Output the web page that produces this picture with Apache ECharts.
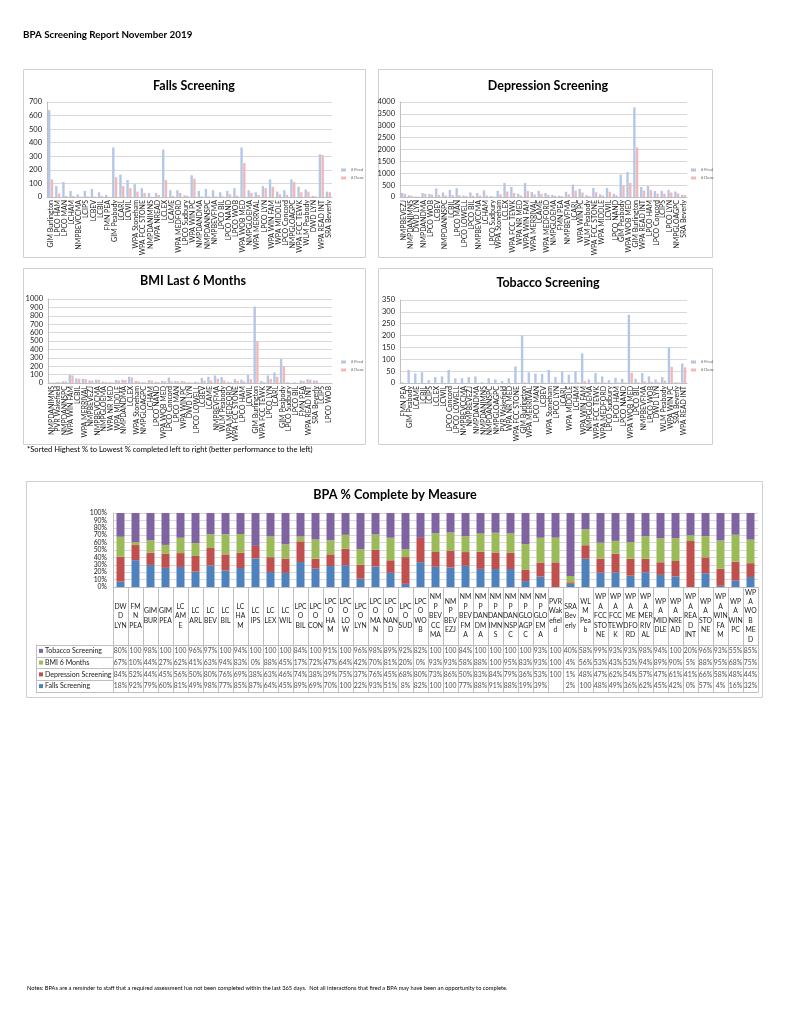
<!DOCTYPE html>
<html><head><meta charset="utf-8">
<script src="https://cdn.jsdelivr.net/npm/echarts@6/dist/echarts.min.js"></script>
<style>html,body{margin:0;padding:0;background:#fff}#c{width:791px;height:1024px}</style>
</head><body><div id="c"></div>
<script>
// ---------- Falls Screening ----------
const fallsSites = ['GIM Burlington','LPCO HAM','LPCO MAN','LCHAM','NMPBEVCCMA','LCIPS','LCBEV','LCBIL','FMN PEA','GIM Peabody','LCARL','LCWIL','WPA Stoneham','WPA FCC STONE','NMPDANIMNS','WPA NREAD','LCLEX','LCAME','WPA MEDFORD','LPCO Sudbury','WPA WIN PC','NMPDANDMA','NMPDANNSPC','NMPBEVFMA','LPCO BIL','LPCO NAND','LPCO WOB','WPA WOB MED','NMPGLOEMA','WPA MERRVAL','LPCO LYN','WPA WIN FAM','WPA MIDDLE','LPCO Concord','NMPGLOAGPC','WPA FCC TEWK','WLM Peabody','DWD LYN','WPA READ INT','SRA Beverly'];
const fallsFired = [640,80,110,45,20,45,60,35,15,365,165,125,95,65,30,30,350,50,50,12,160,45,60,50,35,45,65,365,50,35,80,130,40,50,130,75,55,8,315,40];
const fallsDone  = [130,25,8,8,3,5,3,8,2,145,80,65,40,30,3,15,125,8,30,10,135,5,5,5,5,20,10,250,30,15,65,75,20,15,110,35,40,5,310,35];

// ---------- Depression Screening ----------
const deprSites = ['NMPBEVEZJ','NMPDANIMNS','DWD LYN','NMPDANDMA','LPCO WOB','LCBEV','NMPDANNSPC','LCBIL','LPCO MAN','LPCO LOWELL','LPCO BIL','NMPBEVCCMA','LCHAM','LPCO Sudbury','WPA Stoneham','LCLEX','WPA FCC TEWK','WPA NR MED','WPA WIN FAM','WPA MERRIVAL','LCAME','WPA MEDFORD','NMPGLOEMA','FMN PEA','NMPBEVFMA','LCARL','WPA WIN PC','WLM Peabody','WPA FCC STONE','WPA MIDDLE','LCWIL','LPCO NAND','GIM Peabody','WPA WOB MED','GIM Burlington','WPA READ INT','LPCO HAM','LPCO Concord','LCIPS','LPCO LYN','NMPGLOAGPC','SRA Beverly'];
const deprFired = [170,70,20,170,130,360,190,300,370,60,190,170,280,40,260,590,420,140,590,210,260,170,90,60,220,520,340,80,380,110,380,130,940,1050,3770,420,460,250,260,300,230,90];
const deprDone  = [140,55,15,140,100,90,60,80,80,40,50,60,60,20,110,230,170,60,260,110,130,90,50,30,110,270,190,40,200,60,220,70,490,590,2090,270,290,140,140,190,150,80];

// ---------- BMI Last 6 Months ----------
const bmiSites = ['NMPDANIMNS','PVR Wakefield','NMPDANNSPC','WPA WIN FAM','LCBIL','WPA MERRIVAL','NMPBEVEZJ','NMPBEVCCMA','NMPGLOEMA','WPA NR MED','WPA MIDDLE','NMPDANDMA','LCLEX','WPA Stoneham','NMPGLOAGPC','LCHAM','LPCO NAND','WPA WOB MED','LPCO Concord','LPCO MAN','WPA WIN PC','DWD LYN','LPCO LOWELL','LCBEV','LCAME','NMPBEVFMA','WLM Peabody','WPA MEDFORD','WPA FCC STONE','LPCO HAM','LCWIL','GIM Burlington','WPA FCC TEWK','LPCO LYN','LCARL','GIM Peabody','LPCO Sudbury','LPCO BIL','FMN PEA','WPA READ INT','SRA Beverly','LCIPS','LPCO WOB'];
const bmiFired = [5,10,20,95,55,50,30,40,15,10,35,40,75,25,10,35,15,25,65,25,25,10,15,60,75,90,70,15,45,40,95,910,25,90,125,285,10,10,30,45,30,3,2];
const bmiDone  = [5,10,18,90,50,47,28,37,14,9,31,35,66,22,8,29,12,19,20,18,17,7,10,30,30,50,30,8,24,19,45,500,11,50,75,200,2,2,25,40,28,0,0];

// ---------- Tobacco Screening ----------
const tobSites = ['FMN PEA','GIM Peabody','LCAME','LCBIL','LCIPS','LCLEX','LCWIL','LPCO Concord','LPCO LOWELL','NMPBEVCCMA','NMPBEVEZJ','NMPDANDMA','NMPDANIMNS','NMPDANNSPC','NMPGLOAGPC','PVR Wakefield','WPA NR MED','WPA FCC STONE','GIM Burlington','WPA MERRIVAL','LPCO MAN','LCBEV','WPA Stoneham','LPCO LYN','LCARL','WPA MIDDLE','LCHAM','WPA WIN FAM','NMPGLOEMA','WPA FCC TEWK','WPA MEDFORD','LPCO Sudbury','LPCO HAM','LPCO NAND','WPA WOB MED','LPCO BIL','NMPBEVFMA','LPCO WOB','DWD LYN','WLM Peabody','WPA WIN PC','SRA Beverly','WPA READ INT'];
const tobFired = [3,55,40,45,12,25,28,55,20,20,25,28,3,20,15,8,20,70,200,45,40,38,55,25,48,35,48,125,15,42,28,12,22,18,288,18,42,28,15,25,150,3,82];
const tobDone  = [0,0,0,0,0,0,0,0,0,0,0,0,0,0,0,0,0,1,3,1,1,1,2,1,2,2,3,8,1,3,2,1,2,2,43,3,7,5,3,10,68,2,66];

// ---------- BPA % Complete by Measure ----------
const siteLabels = ['DW\nD\nLYN','FM\nN\nPEA','GIM\nBUR','GIM\nPEA','LC\nAM\nE','LC\nARL','LC\nBEV','LC\nBIL','LC\nHA\nM','LC\nIPS','LC\nLEX','LC\nWIL','LPC\nO\nBIL','LPC\nO\nCON','LPC\nO\nHA\nM','LPC\nO\nLO\nW','LPC\nO\nLYN','LPC\nO\nMA\nN','LPC\nO\nNAN\nD','LPC\nO\nSUD','LPC\nO\nWO\nB','NM\nP\nBEV\nCC\nMA','NM\nP\nBEV\nEZJ','NM\nP\nBEV\nFM\nA','NM\nP\nDAN\nDM\nA','NM\nP\nDAN\nIMN\nS','NM\nP\nDAN\nNSP\nC','NM\nP\nGLO\nAGP\nC','NM\nP\nGLO\nEM\nA','PVR\nWak\nefiel\nd','SRA\nBev\nerly','WL\nM\nPea\nb','WP\nA\nFCC\nSTO\nNE','WP\nA\nFCC\nTEW\nK','WP\nA\nME\nDFO\nRD','WP\nA\nMER\nRIV\nAL','WP\nA\nMID\nDLE','WP\nA\nNRE\nAD','WP\nA\nREA\nD\nINT','WP\nA\nSTO\nNE','WP\nA\nWIN\nFA\nM','WP\nA\nWIN\nPC','WP\nA\nWO\nB\nME\nD'];
const measureNames = ['Tobacco Screening','BMI 6 Months','Depression Screening','Falls Screening'];
const tobaccoPct    = [80,100,98,100,100,96,97,100,94,100,100,100,84,100,91,100,96,98,89,92,82,100,100,84,100,100,100,100,93,100,40,58,99,93,93,98,94,100,20,96,93,55,85];
const bmiPct        = [67,10,44,27,62,41,63,94,83,0,88,45,17,72,47,64,42,70,81,20,0,93,93,58,88,100,95,83,93,100,4,56,53,43,53,94,89,90,5,88,95,68,75];
const depressionPct = [84,52,44,45,56,50,80,76,69,38,63,46,74,38,39,75,37,76,45,68,80,73,86,50,83,84,79,36,53,100,1,48,47,62,54,57,47,61,41,66,58,48,44];
const fallsPct      = [18,92,79,60,81,49,98,77,85,87,64,45,89,69,70,100,22,93,51,8,82,100,100,77,88,91,88,19,39,null,2,100,48,49,36,62,45,42,0,57,4,16,32];
const pctTicks = [0,10,20,30,40,50,60,70,80,90,100];

const FONT = 'Lato, "Liberation Sans", sans-serif';
const FIRED = '#B4C7E7', DONE = '#F2B8B8';
const C_FALLS = '#4F81BD', C_DEP = '#C0504D', C_BMI = '#9BBB59', C_TOB = '#8064A2';
const GRIDC = '#D9D9D9', LINEC = '#BFBFBF', TXT = '#1a1a1a';

// 100% stacked shares
const rowsRaw = [fallsPct, depressionPct, bmiPct, tobaccoPct];
const totals = siteLabels.map((_, i) => rowsRaw.reduce((s, a) => s + (a[i] || 0), 0));
const share = a => a.map((v, i) => v == null ? 0 : v / totals[i] * 100);

function smallX(gi, data) {
  return {type:'category', gridIndex:gi, data,
    axisLabel:{interval:0, rotate:90, fontSize:7, color:TXT, margin:3},
    axisTick:{show:false}, axisLine:{lineStyle:{color:LINEC}}};
}
function smallY(gi, max, interval) {
  return {type:'value', gridIndex:gi, min:0, max, interval,
    axisLabel:{fontSize:7.5, color:TXT, margin:5, formatter:v => String(v)},
    axisLine:{show:true, lineStyle:{color:LINEC}}, axisTick:{show:false},
    splitLine:{lineStyle:{color:GRIDC}}};
}
function pair(i, fired, done) {
  return [
    {name:'# Fired', type:'bar', xAxisIndex:i, yAxisIndex:i, data:fired, barWidth:2.4, barGap:'15%', itemStyle:{color:FIRED}, silent:true},
    {name:'# Done', type:'bar', xAxisIndex:i, yAxisIndex:i, data:done, barWidth:2.4, barGap:'15%', itemStyle:{color:DONE}, silent:true}
  ];
}
function smallLegend(left, top) {
  return {left, top, orient:'vertical', icon:'rect', itemWidth:5, itemHeight:3, itemGap:4,
    padding:0, selectedMode:false, textStyle:{fontSize:4, color:'#666', fontFamily:FONT},
    data:['# Fired','# Done']};
}

const cellData = [];
[tobaccoPct, bmiPct, depressionPct, fallsPct].forEach((arr, r) => arr.forEach((v, c) => cellData.push([c, r, v])));
const sq = [C_TOB, C_BMI, C_DEP, C_FALLS];

const box = (x, y, w, h) => ({type:'rect', shape:{x, y, width:w, height:h}, style:{fill:'none', stroke:'#D0D0D0', lineWidth:1}, silent:true, z:-1});
const tStyle = (size, bold) => ({fontSize:size, fontWeight:bold ? 'bold' : 'normal', color:'#000', fontFamily:FONT});

const option = {
  animation:false,
  backgroundColor:'#fff',
  textStyle:{fontFamily:FONT},
  title:[
    {text:'BPA Screening Report November 2019', left:23, top:30, padding:0, textStyle:tStyle(9.8, true)},
    {text:'Falls Screening', left:194, top:79, textAlign:'center', padding:0, textStyle:tStyle(12.5, true)},
    {text:'Depression Screening', left:548, top:79, textAlign:'center', padding:0, textStyle:tStyle(12.5, true)},
    {text:'BMI Last 6 Months', left:193, top:274, textAlign:'center', padding:0, textStyle:tStyle(12.5, true)},
    {text:'Tobacco Screening', left:548, top:276, textAlign:'center', padding:0, textStyle:tStyle(12.5, true)},
    {text:'*Sorted Highest % to Lowest % completed left to right (better performance to the left)', left:27, top:446, padding:0, textStyle:tStyle(7.6, false)},
    {text:'BPA % Complete by Measure', left:395, top:488, textAlign:'center', padding:0, textStyle:tStyle(12.6, true)},
    {text:'Notes: BPAs are a reminder to staff that a required assessment has not been completed within the last 365 days.  Not all interactions that fired a BPA may have been an opportunity to complete.', left:27, top:985, padding:0, textStyle:tStyle(5.7, false)}
  ],
  legend:[smallLegend(341,168), smallLegend(691,168), smallLegend(341,360), smallLegend(691,360)],
  grid:[
    {left:47, top:102, width:285, height:95},
    {left:400, top:102, width:287, height:95},
    {left:48, top:299, width:284, height:84},
    {left:400, top:300, width:287, height:83},
    {left:113, top:513, width:645, height:74},
    {left:113, top:645, width:645, height:47},
    {left:36, top:645, width:77, height:47}
  ],
  xAxis:[
    smallX(0, fallsSites), smallX(1, deprSites), smallX(2, bmiSites), smallX(3, tobSites),
    {type:'category', gridIndex:4, data:siteLabels,
      axisLabel:{interval:0, fontSize:6.8, lineHeight:9.4, color:TXT, margin:29, verticalAlign:'middle', align:'center'},
      axisTick:{show:true, interval:0, length:105, lineStyle:{color:LINEC}},
      axisLine:{lineStyle:{color:LINEC}}},
    {type:'category', gridIndex:5, data:siteLabels, axisLabel:{show:false}, axisTick:{show:false}, axisLine:{show:true, lineStyle:{color:LINEC}}},
    {type:'category', gridIndex:6, data:[''], show:false}
  ],
  yAxis:[
    smallY(0, 700, 100), smallY(1, 4000, 500), smallY(2, 1000, 100), smallY(3, 350, 50),
    {type:'value', gridIndex:4, min:pctTicks[0], max:pctTicks[pctTicks.length-1], interval:10,
      axisLabel:{fontSize:6.8, color:TXT, margin:6, formatter:'{value}%'},
      axisLine:{show:true, lineStyle:{color:LINEC}}, axisTick:{show:false},
      splitLine:{lineStyle:{color:GRIDC}}},
    {type:'category', gridIndex:5, inverse:true, data:measureNames, axisLabel:{show:false}, axisTick:{show:false},
      axisLine:{show:true, lineStyle:{color:LINEC}}, splitLine:{show:true, lineStyle:{color:LINEC}}},
    {type:'category', gridIndex:6, inverse:true, data:measureNames, axisTick:{show:false},
      axisLine:{show:true, lineStyle:{color:LINEC}}, splitLine:{show:true, lineStyle:{color:LINEC}},
      axisLabel:{inside:true, margin:3, fontSize:7, color:TXT, align:'left',
        formatter:(v, i) => '{s' + i + '|}{t|' + v + '}',
        rich:{
          s0:{backgroundColor:sq[0], width:4, height:4}, s1:{backgroundColor:sq[1], width:4, height:4},
          s2:{backgroundColor:sq[2], width:4, height:4}, s3:{backgroundColor:sq[3], width:4, height:4},
          t:{fontSize:7, color:TXT, padding:[0,0,0,2], fontFamily:FONT}
        }}}
  ],
  series:[
    ...pair(0, fallsFired, fallsDone),
    ...pair(1, deprFired, deprDone),
    ...pair(2, bmiFired, bmiDone),
    ...pair(3, tobFired, tobDone),
    {name:'Falls Screening', type:'bar', stack:'pct', xAxisIndex:4, yAxisIndex:4, barWidth:8, data:share(fallsPct), itemStyle:{color:C_FALLS}, silent:true},
    {name:'Depression Screening', type:'bar', stack:'pct', xAxisIndex:4, yAxisIndex:4, barWidth:8, data:share(depressionPct), itemStyle:{color:C_DEP}, silent:true},
    {name:'BMI 6 Months', type:'bar', stack:'pct', xAxisIndex:4, yAxisIndex:4, barWidth:8, data:share(bmiPct), itemStyle:{color:C_BMI}, silent:true},
    {name:'Tobacco Screening', type:'bar', stack:'pct', xAxisIndex:4, yAxisIndex:4, barWidth:8, data:share(tobaccoPct), itemStyle:{color:C_TOB}, silent:true},
    {name:'table', type:'scatter', xAxisIndex:5, yAxisIndex:5, data:cellData, symbolSize:1, silent:true,
      itemStyle:{color:'rgba(0,0,0,0)'},
      label:{show:true, position:'inside', fontSize:6.8, color:TXT, fontFamily:FONT,
        formatter:p => { const v = p.value[2]; return (v == null || isNaN(v)) ? '' : (v === 100 ? '100' : v + '%'); }}}
  ],
  graphic:[
    box(23.5, 69.5, 342, 188),
    box(378.5, 69.5, 334, 188),
    box(23.5, 268.5, 342, 176),
    box(378.5, 268.5, 334, 176),
    box(26.5, 481.5, 736, 216)
  ]
};
const chart = echarts.init(document.getElementById('c'), null, {renderer:'canvas'});
chart.setOption(option);
</script>
</body></html>
